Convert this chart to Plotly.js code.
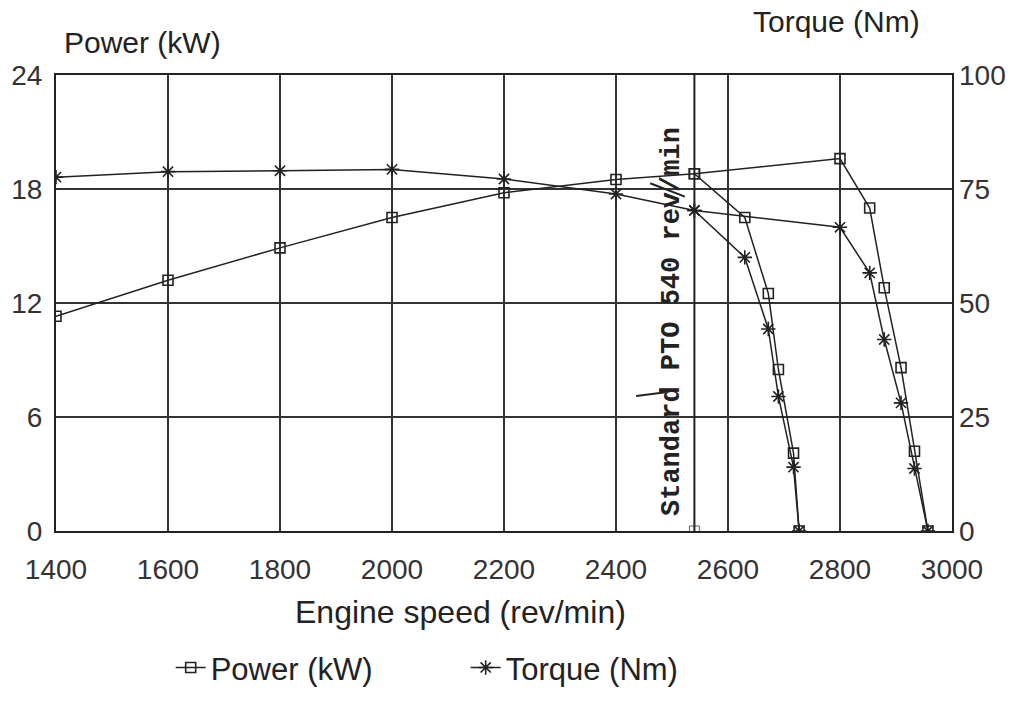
<!DOCTYPE html>
<html>
<head>
<meta charset="utf-8">
<script src="https://cdn.plot.ly/plotly-3.0.1.min.js"></script>
<style>html,body{margin:0;padding:0;background:#fff;}#chart{width:1013px;height:707px;}</style>
</head>
<body>
<div id="chart"></div>
<script>
// Engine speed (rev/min) for the first governor curve (drops after PTO speed)
const speedA  = [1400, 1600, 1800, 2000, 2200, 2400, 2540, 2630, 2672, 2690, 2717, 2727];
const powerA  = [11.3, 13.2, 14.9, 16.5, 17.8, 18.5, 18.8, 16.5, 12.5, 8.5, 4.1, 0];
const torqueA = [77.6, 78.8, 79.0, 79.3, 77.2, 73.9, 70.3, 60.0, 44.3, 29.5, 14.0, 0];
// Second branch (from PTO speed to high idle)
const speedB  = [2540, 2800, 2853, 2879, 2909, 2933, 2957];
const powerB  = [18.8, 19.6, 17.0, 12.8, 8.6, 4.2, 0];
const torqueB = [70.3, 66.6, 56.6, 42.0, 28.1, 13.7, 0];
// Standard PTO reference speed
const ptoSpeed = [2540, 2540];
const ptoPower = [0, 24];

const xTicks = [1400, 1600, 1800, 2000, 2200, 2400, 2600, 2800, 3000];
const powerTicks = [0, 6, 12, 18, 24];
const torqueTicks = [0, 25, 50, 75, 100];

const ink = '#222';
const sx = speedA.concat([null], speedB);
const traces = [
  {x: sx, y: powerA.concat([null], powerB), name: 'Power (kW)', type: 'scatter', mode: 'lines+markers',
   line: {color: ink, width: 1.5}, marker: {symbol: 'square-open', size: 10, color: ink, line: {width: 1.6}},
   connectgaps: false, yaxis: 'y'},
  {x: sx, y: torqueA.concat([null], torqueB), name: 'Torque (Nm)', type: 'scatter', mode: 'lines+markers',
   line: {color: ink, width: 1.5}, marker: {symbol: 'asterisk-open', size: 12, color: ink, line: {width: 1.6, color: ink}},
   connectgaps: false, yaxis: 'y2'},
  {x: ptoSpeed, y: ptoPower, type: 'scatter', mode: 'lines+markers', showlegend: false, hoverinfo: 'skip',
   line: {color: ink, width: 2}, marker: {symbol: 'square-open', size: [10, 0], color: ink}, yaxis: 'y'}
];

const sans = 'Liberation Sans, Arial, sans-serif';
const tickFont = {family: sans, size: 28, color: '#333'};
const titleFont = {family: sans, size: 30, color: '#222'};

const layout = {
  width: 1013, height: 707,
  margin: {l: 56, r: 61, t: 75, b: 176},
  paper_bgcolor: '#fff', plot_bgcolor: '#fff',
  showlegend: true,
  legend: {orientation: 'h', x: 0.128, y: -0.3, xanchor: 'left', yanchor: 'middle',
           font: {family: sans, size: 31, color: '#222'},
           entrywidth: 250, entrywidthmode: 'pixels', bgcolor: 'rgba(0,0,0,0)'},
  xaxis: {range: [1400, 3000], tickvals: xTicks, ticktext: xTicks.map(String), tickfont: tickFont,
          showgrid: true, gridcolor: '#333', gridwidth: 1.5, zeroline: false,
          showline: true, linecolor: '#222', linewidth: 2, mirror: true, ticks: '', ticklabelstandoff: 12},
  yaxis: {range: [0, 24], tickvals: powerTicks, tickfont: tickFont,
          showgrid: true, gridcolor: '#333', gridwidth: 1.5, zeroline: false,
          showline: true, linecolor: '#222', linewidth: 2, mirror: true, ticks: '', ticklabelstandoff: 6},
  yaxis2: {range: [0, 100], tickvals: torqueTicks, tickfont: tickFont, overlaying: 'y', side: 'right',
           showgrid: false, zeroline: false, showline: false, ticks: '', ticklabelstandoff: 6},
  annotations: [
    {text: 'Power (kW)', xref: 'paper', yref: 'paper', x: 0.007, y: 1.0, xanchor: 'left', yanchor: 'bottom',
     yshift: 14, showarrow: false, font: titleFont},
    {text: 'Torque (Nm)', xref: 'paper', yref: 'paper', x: 0.966, y: 1.0, xanchor: 'right', yanchor: 'bottom',
     yshift: 35, showarrow: false, font: titleFont},
    {text: 'Engine speed (rev/min)', xref: 'paper', yref: 'paper', x: 0.451, y: 0, xanchor: 'center', yanchor: 'middle',
     yshift: -81, showarrow: false, font: {family: sans, size: 32, color: '#222'}},
    {text: 'Standard PTO 540 rev/min', xref: 'x', yref: 'y', x: 2500, y: 11, textangle: -90,
     showarrow: false, font: {family: 'Liberation Mono, Courier New, monospace', size: 27, color: '#222', weight: 'bold'}}
  ],
  shapes: [
    {type: 'line', xref: 'x', yref: 'y', x0: 2436, y0: 7.1, x1: 2489, y1: 7.3, line: {color: '#222', width: 2}},
    {type: 'line', xref: 'x', yref: 'y', x0: 2461, y0: 18.3, x1: 2523, y1: 17.6, line: {color: '#222', width: 2}}
  ]
};

Plotly.newPlot('chart', traces, layout, {displayModeBar: false, staticPlot: true});
</script>
</body>
</html>
